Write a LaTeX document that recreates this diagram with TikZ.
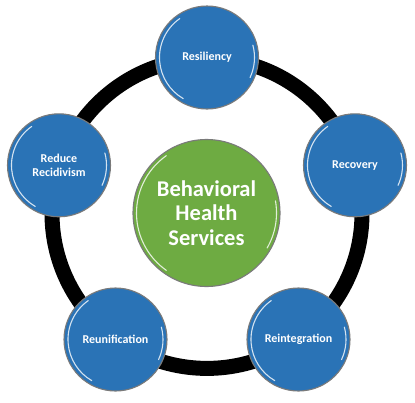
\documentclass[tikz,border=0pt]{standalone}
\usepackage{fontspec}
\setmainfont{Carlito}
\definecolor{bubbleblue}{HTML}{2A73B6}
\definecolor{hubgreen}{HTML}{6EAB42}
\definecolor{rimgray}{HTML}{7A7A7A}
\tikzset{
  bubble/.style={circle, draw=rimgray, line width=1.1pt, fill=bubbleblue, minimum size=103pt, inner sep=0pt, text=white, font=\bfseries\fontsize{12}{13.5}\selectfont, align=center},
  hub/.style={circle, draw=rimgray, line width=1.1pt, fill=hubgreen, minimum size=147pt, inner sep=0pt, text=white, font=\bfseries\fontsize{22.5}{24.5}\selectfont, align=center},
  ring/.style={line width=15pt, black},
  shine/.style={white, opacity=0.8, line width=1.1pt, line cap=round}
}
\begin{document}
\begin{tikzpicture}[x=1pt,y=-1pt]
\useasboundingbox[fill=white] (0,0) rectangle (415,402);
\coordinate (ctr) at (207,213.4);
\draw[ring] (ctr) circle[radius=155];
\node[bubble] (res) at (207,57.5) {Resiliency};
\node[bubble] (rec) at (355,165.3) {Recovery};
\node[bubble] (rein) at (298.5,339.5) {Reintegration};
\node[bubble] (reun) at (115.5,339.5) {Reunification};
\node[bubble] (red) at (59,165.3) {Reduce\\Recidivism};
\node[hub] (bhs) at (206.5,213) {Behavioral\\Health\\Services};
\foreach \n in {res,rec,rein,reun,red}{
  \draw[shine] (\n.center) ++(235:47.5) arc[start angle=235, end angle=120, radius=47.5];
  \draw[shine] (\n.center) ++(25:47.5) arc[start angle=25, end angle=-15, radius=47.5];
}
\draw[shine] (bhs.center) ++(235:70) arc[start angle=235, end angle=125, radius=70];
\draw[shine] (bhs.center) ++(30:70) arc[start angle=30, end angle=-10, radius=70];
\end{tikzpicture}
\end{document}
